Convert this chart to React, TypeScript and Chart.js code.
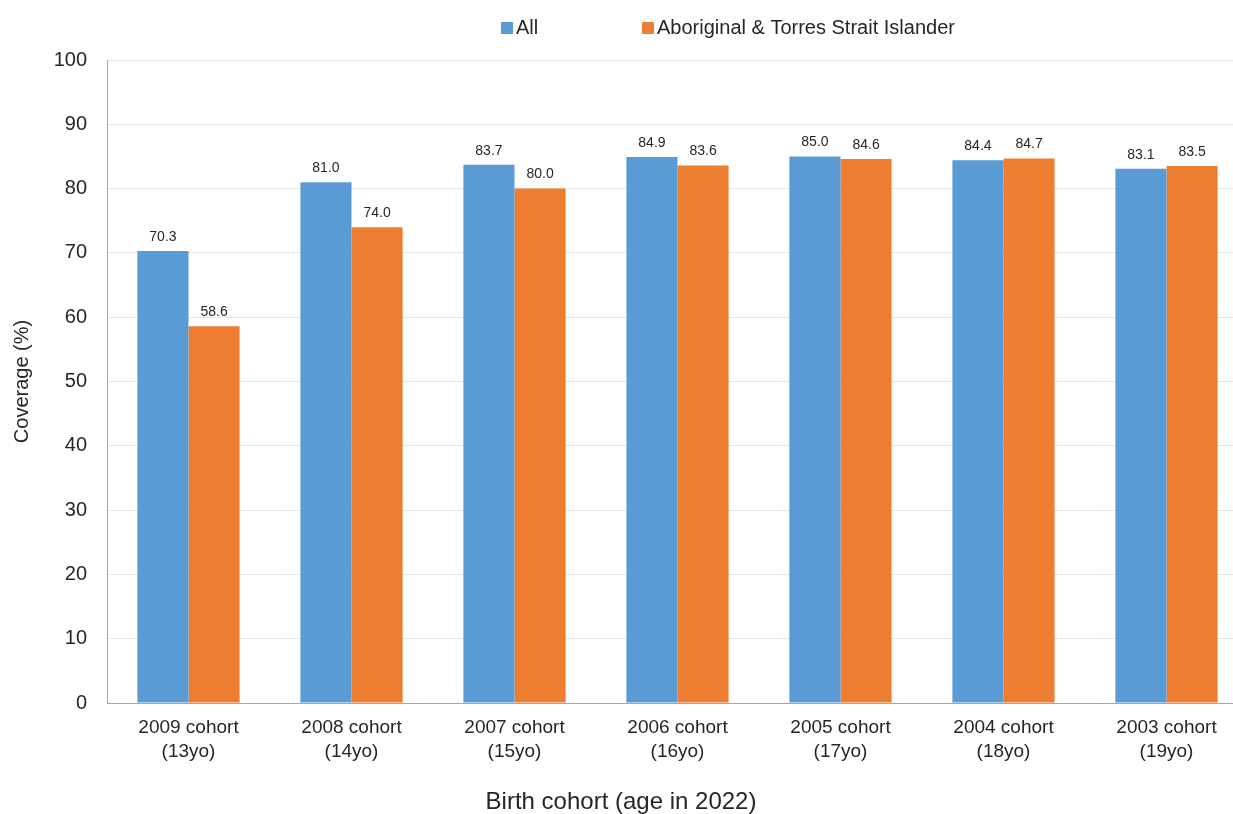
import React, { useEffect, useRef } from "react";
import { Chart, registerables } from "chart.js";

Chart.register(...registerables);

const categories: string[][] = [
  ["2009 cohort", "(13yo)"],
  ["2008 cohort", "(14yo)"],
  ["2007 cohort", "(15yo)"],
  ["2006 cohort", "(16yo)"],
  ["2005 cohort", "(17yo)"],
  ["2004 cohort", "(18yo)"],
  ["2003 cohort", "(19yo)"],
];
const allValues = [70.3, 81.0, 83.7, 84.9, 85.0, 84.4, 83.1];
const atsiValues = [58.6, 74.0, 80.0, 83.6, 84.6, 84.7, 83.5];
const seriesNames = ["All", "Aboriginal & Torres Strait Islander"];
const seriesColors = ["#5B9BD5", "#ED7D31"];
const yTitle = "Coverage (%)";
const xTitle = "Birth cohort (age in 2022)";

const FONT = "'Liberation Sans', Arial, sans-serif";
const CANVAS_W = 1450;
const CANVAS_H = 830;

const labelPlugin = {
  id: "valueLabels",
  afterDatasetsDraw(chart: any) {
    const ctx = chart.ctx;
    ctx.save();
    ctx.font = `14px ${FONT}`;
    ctx.fillStyle = "#262626";
    ctx.textAlign = "center";
    ctx.textBaseline = "middle";
    chart.data.datasets.forEach((ds: any, i: number) => {
      const meta = chart.getDatasetMeta(i);
      meta.data.forEach((el: any, j: number) => {
        ctx.fillText(Number(ds.data[j]).toFixed(1), el.x, el.y - 14);
      });
    });
    ctx.restore();
  },
};

const legendTitlePlugin = {
  id: "legendAndTitle",
  afterDraw(chart: any) {
    const ctx = chart.ctx;
    ctx.save();
    // legend
    ctx.font = `20px ${FONT}`;
    ctx.textBaseline = "middle";
    ctx.textAlign = "left";
    const legendY = 28;
    const starts = [501, 642];
    seriesNames.forEach((name, i) => {
      ctx.fillStyle = seriesColors[i];
      ctx.fillRect(starts[i], legendY - 6, 12, 12);
      ctx.fillStyle = "#262626";
      ctx.fillText(name, starts[i] + 15, legendY);
    });
    // x axis title
    ctx.font = `24px ${FONT}`;
    ctx.textAlign = "center";
    ctx.fillStyle = "#262626";
    ctx.fillText(xTitle, 621, 802);
    ctx.restore();
  },
};

export default function App() {
  const ref = useRef<HTMLCanvasElement | null>(null);
  useEffect(() => {
    if (!ref.current) return;
    const chart = new Chart(ref.current, {
      type: "bar",
      data: {
        labels: categories,
        datasets: [
          {
            label: seriesNames[0],
            data: allValues,
            backgroundColor: seriesColors[0],
            categoryPercentage: 0.627,
            barPercentage: 1,
          },
          {
            label: seriesNames[1],
            data: atsiValues,
            backgroundColor: seriesColors[1],
            categoryPercentage: 0.627,
            barPercentage: 1,
          },
        ],
      },
      options: {
        responsive: false,
        animation: false,
        layout: { padding: { left: 0, right: CANVAS_W - 1248, top: 60, bottom: 0 } },
        plugins: {
          legend: { display: false },
          tooltip: { enabled: false },
        },
        scales: {
          x: {
            grid: { display: false, drawTicks: false },
            border: { color: "#a6a6a6", width: 1 },
            ticks: {
              font: { family: FONT, size: 19, lineHeight: 1.25 },
              color: "#262626",
              padding: 13,
              maxRotation: 0,
              autoSkip: false,
            },
            afterFit(scale: any) {
              scale.height = CANVAS_H - 703;
            },
          },
          y: {
            min: 0,
            max: 100,
            ticks: {
              stepSize: 10,
              font: { family: FONT, size: 20 },
              color: "#262626",
              padding: 20,
            },
            grid: { color: "#e4e4e4", lineWidth: 1, drawTicks: false },
            border: { color: "#a6a6a6", width: 1 },
            title: {
              display: true,
              text: yTitle,
              font: { family: FONT, size: 20 },
              color: "#262626",
              padding: { top: 10, bottom: 0 },
            },
            afterFit(scale: any) {
              scale.width = 107;
            },
          },
        },
      },
      plugins: [labelPlugin, legendTitlePlugin],
    });
    return () => chart.destroy();
  }, []);
  return (
    <div
      style={{
        position: "fixed",
        left: 0,
        top: 0,
        width: 1233,
        height: 814,
        overflow: "hidden",
        background: "#ffffff",
      }}
    >
      <canvas
        ref={ref}
        width={CANVAS_W}
        height={CANVAS_H}
        style={{ display: "block", width: CANVAS_W, height: CANVAS_H }}
      />
    </div>
  );
}
